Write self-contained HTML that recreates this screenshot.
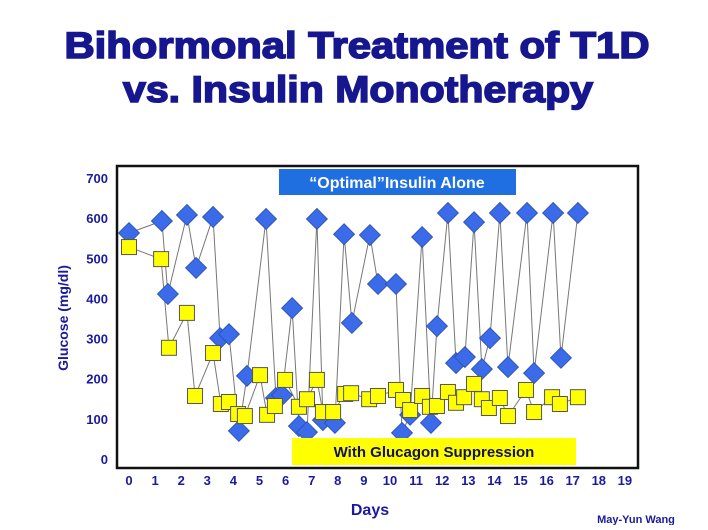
<!DOCTYPE html>
<html><head><meta charset="utf-8"><style>
body{margin:0;width:708px;height:525px;background:#fff;overflow:hidden;font-family:"Liberation Sans",sans-serif}
</style></head><body>
<svg width="708" height="525" xmlns="http://www.w3.org/2000/svg">
<text x="357" y="58" text-anchor="middle" font-size="37" font-weight="bold" fill="#16168f" stroke="#16168f" stroke-width="1.6" textLength="585" lengthAdjust="spacingAndGlyphs">Bihormonal Treatment of T1D</text>
<text x="358" y="102" text-anchor="middle" font-size="37" font-weight="bold" fill="#16168f" stroke="#16168f" stroke-width="1.6" textLength="470" lengthAdjust="spacingAndGlyphs">vs. Insulin Monotherapy</text>
<rect x="117" y="166" width="521" height="302" fill="#fff" stroke="#111" stroke-width="2.5"/>
<g id="yt"></g><g id="xt"></g>
<text transform="translate(68,318) rotate(-90)" text-anchor="middle" font-size="14" font-weight="bold" fill="#1a1a9e">Glucose (mg/dl)</text>
<text x="370" y="515" text-anchor="middle" font-size="16" font-weight="bold" fill="#1a1a9e">Days</text>
<text x="636" y="523" text-anchor="middle" font-size="11" font-weight="bold" fill="#1a1a9e">May-Yun Wang</text>
<g id="series"></g>
<rect x="279" y="169" width="237" height="26" fill="#1f6fe0"/>
<text x="397" y="188" text-anchor="middle" font-size="16" font-weight="bold" fill="#fff">“Optimal”Insulin Alone</text>
<rect x="292" y="438" width="284" height="27" fill="#ffff00"/>
<text x="434" y="457" text-anchor="middle" font-size="15" font-weight="bold" fill="#111155">With Glucagon  Suppression</text>
</svg>
<script>
const yTicks=[0,100,200,300,400,500,600,700];
const xTicks=[0,1,2,3,4,5,6,7,8,9,10,11,12,13,14,15,16,17,18,19];
const insulinDays=[0,1.26,1.49,2.22,2.57,3.22,3.49,3.83,4.21,4.52,5.25,5.63,5.86,6.25,6.51,6.82,7.2,7.43,7.89,8.24,8.54,9.23,9.54,10.23,10.46,10.77,11.23,11.57,11.8,12.22,12.53,12.87,13.22,13.52,13.83,14.21,14.52,15.25,15.52,16.25,16.55,17.2];
const insulinValues=[563,593,411,608,476,603,301,311,70,207,598,152,159,376,82,67,598,97,90,560,339,558,436,436,65,110,553,90,331,613,239,254,590,224,301,613,229,613,214,613,252,613];
const glucagonDays=[0,1.23,1.53,2.22,2.53,3.22,3.52,3.83,4.18,4.44,5.02,5.29,5.59,5.98,6.51,6.82,7.2,7.43,7.82,8.28,8.51,9.2,9.54,10.23,10.5,10.77,11.23,11.53,11.8,12.22,12.53,12.84,13.22,13.52,13.79,14.21,14.52,15.21,15.52,16.21,16.51,17.2];
const glucagonValues=[528,498,277,364,157,264,137,142,112,107,209,110,132,197,130,149,197,117,117,162,164,149,157,172,147,122,157,130,132,167,140,154,187,149,127,152,107,172,117,154,137,154];
const NS="http://www.w3.org/2000/svg";
const xs=d=>129+d*26.1, ys=v=>459-v*0.4014;
function mk(t,a){const e=document.createElementNS(NS,t);for(const k in a)e.setAttribute(k,a[k]);return e;}
const yt=document.getElementById('yt'),xt=document.getElementById('xt'),sg=document.getElementById('series');
yTicks.forEach(v=>{const t=mk('text',{x:108,y:ys(v)+5,'text-anchor':'end','font-size':13,'font-weight':'bold',fill:'#1a1a9e'});


t.textContent=v;yt.appendChild(t);});
xTicks.forEach(v=>{const t=mk('text',{x:xs(v),y:485,'text-anchor':'middle','font-size':13,'font-weight':'bold',fill:'#1a1a9e'});


t.textContent=v;xt.appendChild(t);});
function line(ds,vs,name){const p=mk('polyline',{points:ds.map((d,i)=>xs(d)+','+ys(vs[i])).join(' '),fill:'none',stroke:'#777',"stroke-width":1});


sg.appendChild(p);}
line(insulinDays,insulinValues,'insulin-alone-line');
line(glucagonDays,glucagonValues,'glucagon-suppression-line');
insulinDays.forEach((d,i)=>{const x=xs(d),y=ys(insulinValues[i]),r=10.5;
const p=mk('polygon',{points:`${x},${y-r} ${x+r},${y} ${x},${y+r} ${x-r},${y}`,fill:'#3b6be8',stroke:'#2a4fb0','stroke-width':0.8});


sg.appendChild(p);});
glucagonDays.forEach((d,i)=>{const x=xs(d),y=ys(glucagonValues[i]);
const p=mk('rect',{x:x-7.5,y:y-7.5,width:15,height:15,fill:'#ffff00',stroke:'#555','stroke-width':1});


sg.appendChild(p);});
</script>
</body></html>
